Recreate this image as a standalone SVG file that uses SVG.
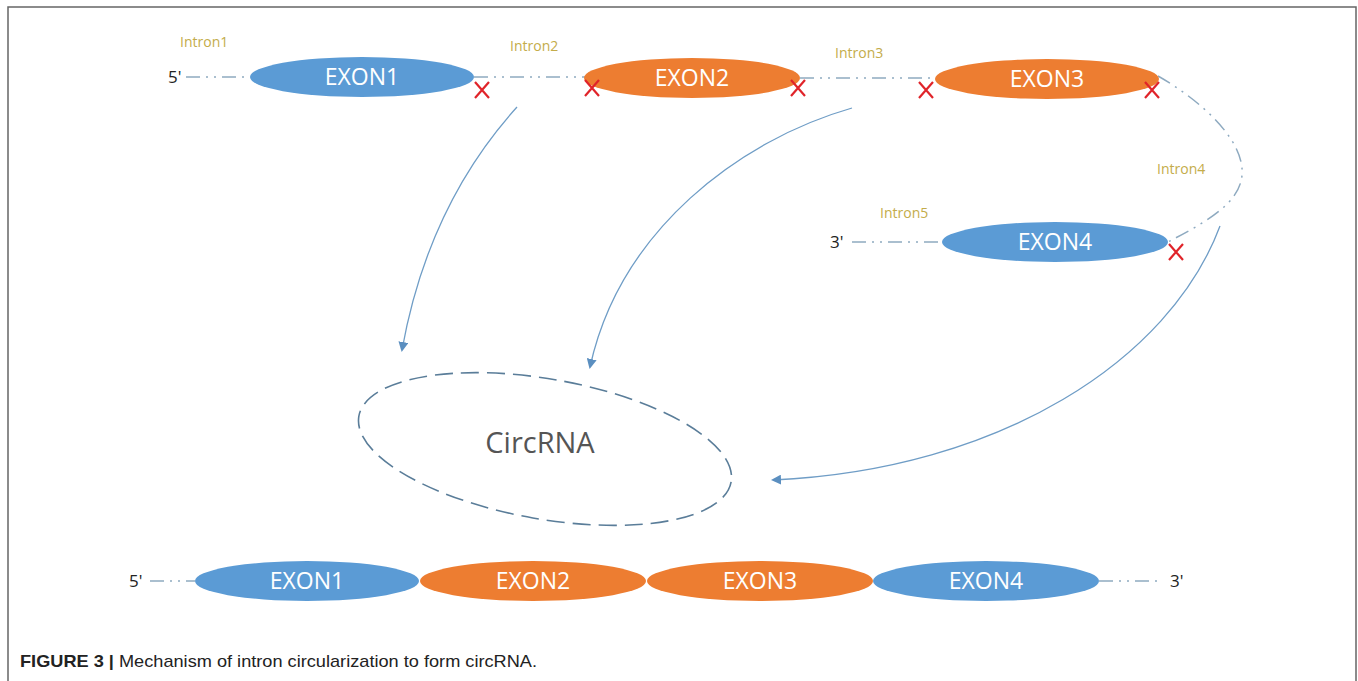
<svg xmlns="http://www.w3.org/2000/svg" width="1358" height="681" viewBox="0 0 1358 681">
<style>
.blue{fill:#5b9bd5}
.orange{fill:#ed7d31}
.ex{font-family:"Open Sans","Liberation Sans",sans-serif;font-size:23px;fill:#ffffff;text-anchor:middle}
.intr{font-family:"Open Sans","Liberation Sans",sans-serif;font-size:14px;fill:#c4ac4a}
.end{font-family:"Open Sans","Liberation Sans",sans-serif;font-size:17px;fill:#222}
.dd{fill:none;stroke:#8eaac0;stroke-width:1.5;stroke-dasharray:14 6 2 6 2 6}
.x{stroke:#e0242a;stroke-width:2.2;fill:none}
.arr{fill:none;stroke:#6f9dc6;stroke-width:1.3;marker-end:url(#ah)}
</style>
<defs>
<marker id="ah" viewBox="0 0 10 10" refX="8" refY="5" markerWidth="10" markerHeight="10" markerUnits="userSpaceOnUse" orient="auto">
<path d="M0,0 L10,5 L0,10 z" fill="#5b8fc0"/>
</marker>
</defs>
<rect width="1358" height="681" fill="#ffffff"/>
<path d="M8,681 V7 H1356 V681" fill="none" stroke="#666" stroke-width="1.5"/>

<g id="connectors">
<path class="dd" d="M186,77 H250"/>
<path class="dd" d="M474,77 H585"/>
<path class="dd" d="M800,78 H936"/>
<path class="dd" d="M1158,76 C1200,100 1245,140 1242,175 C1240,205 1200,225 1168,242"/>
<path class="dd" d="M852,242 H944"/>
<path class="dd" d="M150,581 H195"/>
<path class="dd" d="M1099,581 H1160"/>
<path class="arr" d="M517,107 C460,170 420,250 402,350"/>
<path class="arr" d="M852,108 C740,140 620,230 590,367"/>
<path class="arr" d="M1220,226 C1170,360 1000,470 773,480"/>
</g>

<g id="top-labels">
<text class="intr" x="180" y="47">Intron1</text>
<text class="intr" x="510" y="51">Intron2</text>
<text class="intr" x="835" y="58">Intron3</text>
<text class="intr" x="1157" y="174">Intron4</text>
<text class="intr" x="880" y="218">Intron5</text>
<text class="end" x="168" y="83">5'</text>
<text class="end" x="830" y="248">3'</text>
</g>

<g id="exon1-top"><ellipse class="blue" cx="362" cy="77" rx="112" ry="20"/><text class="ex" x="362" y="85">EXON1</text></g>
<g id="exon2-top"><ellipse class="orange" cx="692" cy="78" rx="108" ry="20"/><text class="ex" x="692" y="86">EXON2</text></g>
<g id="exon3-top"><ellipse class="orange" cx="1047" cy="79" rx="112" ry="20"/><text class="ex" x="1047" y="87">EXON3</text></g>
<g id="exon4-top"><ellipse class="blue" cx="1055" cy="242" rx="113" ry="20"/><text class="ex" x="1055" y="250">EXON4</text></g>

<g id="cuts">
<path class="x" d="M475,82 L489,98 M489,82 L475,98"/>
<path class="x" d="M585,80 L599,96 M599,80 L585,96"/>
<path class="x" d="M791,80 L805,96 M805,80 L791,96"/>
<path class="x" d="M919,82 L933,98 M933,82 L919,98"/>
<path class="x" d="M1145,82 L1159,98 M1159,82 L1145,98"/>
<path class="x" d="M1169,244 L1183,260 M1183,244 L1169,260"/>
</g>

<g id="circrna">
<ellipse cx="545" cy="449" rx="189" ry="70" transform="rotate(10 545 449)" fill="none" stroke="#5a7d99" stroke-width="1.6" stroke-dasharray="18 8"/>
<text x="540" y="453" font-family="'Open Sans','Liberation Sans',sans-serif" font-size="29" fill="#555" text-anchor="middle">CircRNA</text>
</g>

<g id="bottom-row">
<text class="end" x="129" y="587">5'</text>
<text class="end" x="1170" y="587">3'</text>
</g>
<g id="exon1-bottom"><ellipse class="blue" cx="307" cy="581" rx="112" ry="20"/><text class="ex" x="307" y="589">EXON1</text></g>
<g id="exon2-bottom"><ellipse class="orange" cx="533" cy="581" rx="113" ry="20"/><text class="ex" x="533" y="589">EXON2</text></g>
<g id="exon3-bottom"><ellipse class="orange" cx="760" cy="581" rx="113" ry="20"/><text class="ex" x="760" y="589">EXON3</text></g>
<g id="exon4-bottom"><ellipse class="blue" cx="986" cy="581" rx="113" ry="20"/><text class="ex" x="986" y="589">EXON4</text></g>

<g id="caption">
<text x="20" y="667" font-family="'Liberation Sans',Arial,sans-serif" font-size="17" fill="#222" textLength="517" lengthAdjust="spacingAndGlyphs"><tspan font-weight="bold">FIGURE 3 |</tspan> Mechanism of intron circularization to form circRNA.</text>
</g>
</svg>
